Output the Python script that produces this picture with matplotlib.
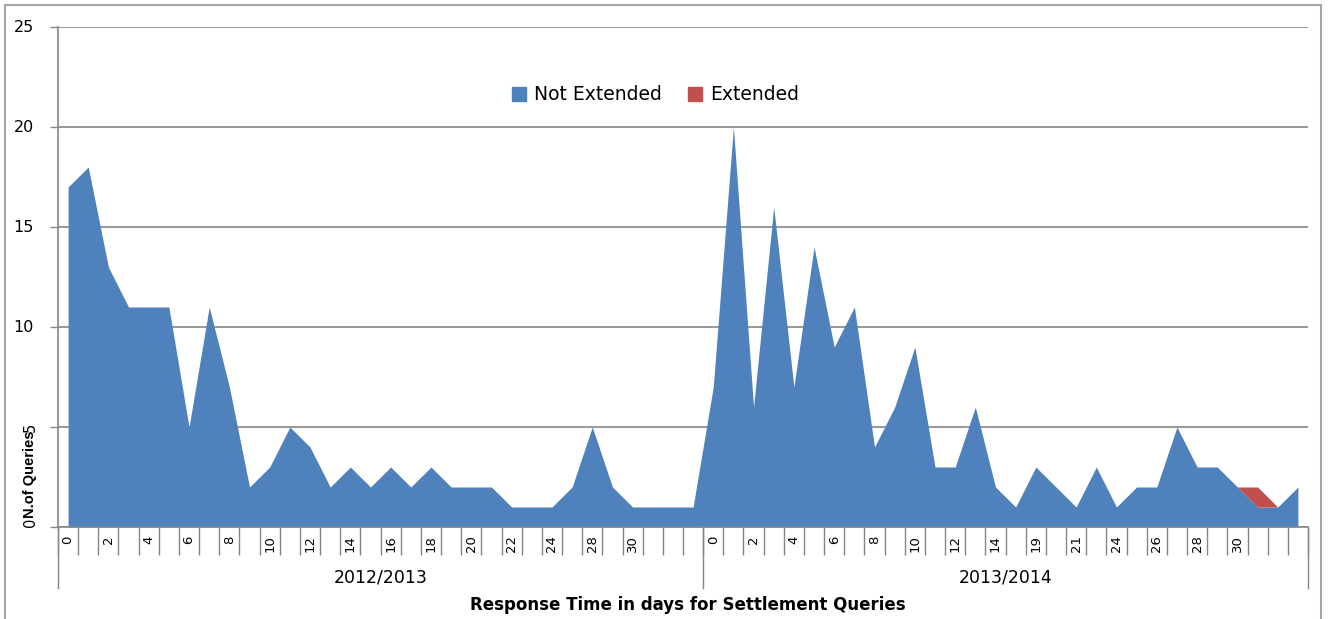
import numpy as np
import matplotlib
matplotlib.use("Agg")
import matplotlib.pyplot as plt
from matplotlib.patches import Rectangle, Patch

# categories: response time in days, per financial year
days_2012 = [str(d) for d in range(25)] + ['27', '28', '29', '30', '', '', '']
days_2013 = [str(d) for d in range(15)] + ['17', '19', '20', '21', '23', '24', '25',
                                            '26', '27', '28', '29', '30', '', '', '']
years = ['2012/2013', '2013/2014']

not_ext_2012 = [17, 18, 13, 11, 11, 11, 5, 11, 7, 2, 3, 5, 4, 2, 3, 2,
                3, 2, 3, 2, 2, 2, 1, 1, 1, 2, 5, 2, 1, 1, 1, 1]
not_ext_2013 = [7, 20, 6, 16, 7, 14, 9, 11, 4, 6, 9, 3, 3, 6, 2, 1,
                3, 2, 1, 3, 1, 2, 2, 5, 3, 3, 2, 1, 1, 2]
ext_2012 = [0] * 32
ext_2013 = [0] * 27 + [1, 0, 0]

blue = '#4F81BD'
red = '#C0504D'
grey = '#868686'

labels = days_2012 + days_2013
not_ext = np.array(not_ext_2012 + not_ext_2013, dtype=float)
ext = np.array(ext_2012 + ext_2013, dtype=float)
x = np.arange(len(labels))
n1 = len(days_2012)
n = len(labels)

fig = plt.figure(figsize=(13.28, 6.19), dpi=100)
ax = fig.add_axes([58 / 1328, 92 / 619, 1250 / 1328, 500 / 619])

ax.fill_between(x, 0, not_ext, color=blue, lw=0, label='Not Extended')
# only draw the red band where it has some thickness
mask = (ext > 0) | (np.roll(ext, 1) > 0) | (np.roll(ext, -1) > 0)
ax.fill_between(x, not_ext, not_ext + ext, where=mask, color=red, lw=0,
                label='Extended')

ax.set_xlim(-0.5, n - 0.5)
ax.set_ylim(0, 25)

# y axis
ax.set_yticks(range(0, 26, 5))
ax.set_yticklabels([])
ax.tick_params(axis='y', length=6, width=1, color=grey)
ax.yaxis.grid(True, color=grey, lw=1.2)
ax.set_axisbelow(True)
for v in range(10, 26, 5):
    ax.text(-0.0192, v, str(v), transform=ax.get_yaxis_transform(),
            ha='right', va='center', fontsize=11.5)
ax.text(-0.0224, 0, '0', transform=ax.get_yaxis_transform(),
        ha='center', va='bottom', rotation=90, fontsize=10.5)
ax.text(-0.0224, 5, '5', transform=ax.get_yaxis_transform(),
        ha='center', va='center', rotation=90, fontsize=10.5)
ax.text(-0.0224, 0.106, 'N.of Queries', transform=ax.transAxes, rotation=90,
        ha='center', va='center', fontsize=10.5, fontweight='bold',
        family=['Liberation Sans Narrow', 'Liberation Sans', 'DejaVu Sans'])

# x axis: boundaries as major ticks, labels on every second category
ax.set_xticks(np.arange(n + 1) - 0.5)
ax.set_xticklabels([])
ax.tick_params(axis='x', which='major', length=20, width=1, color=grey)
ax.set_xticks(x[::2], minor=True)
ax.set_xticklabels(labels[::2], minor=True, rotation=90, fontsize=9.5)
ax.tick_params(axis='x', which='minor', length=0, pad=6)

for s in ['top', 'right']:
    ax.spines[s].set_visible(False)
for s in ['left', 'bottom']:
    ax.spines[s].set_color(grey)
    ax.spines[s].set_linewidth(1.2)

# year groups
trans = ax.get_xaxis_transform()
for b in [-0.5, n1 - 0.5, n - 0.5]:
    ax.plot([b, b], [0, -0.122], transform=trans, color=grey, lw=1, clip_on=False)
ax.text((n1 - 1) / 2, -0.102, years[0], transform=trans, ha='center',
        va='center', fontsize=12.5)
ax.text((n1 + n - 1) / 2, -0.102, years[1], transform=trans, ha='center',
        va='center', fontsize=12.5)

ax.text(0.504, -0.156, 'Response Time in days for Settlement Queries',
        transform=ax.transAxes, ha='center', va='center', fontsize=12,
        fontweight='bold')

handles = [Patch(color=blue, label='Not Extended'), Patch(color=red, label='Extended')]
ax.legend(handles=handles, loc='center', bbox_to_anchor=(0.478, 0.864), ncol=2,
          frameon=False, fontsize=13.5, handlelength=0.75, handleheight=0.75,
          handletextpad=0.4, columnspacing=1.4)

fig.add_artist(Rectangle((5 / 1328, -0.02), 1316 / 1328, 1 - 5 / 619 + 0.02,
                         transform=fig.transFigure, fill=False,
                         edgecolor='#a6a6a6', lw=1.5))

fig.savefig('out.png', dpi=100)
